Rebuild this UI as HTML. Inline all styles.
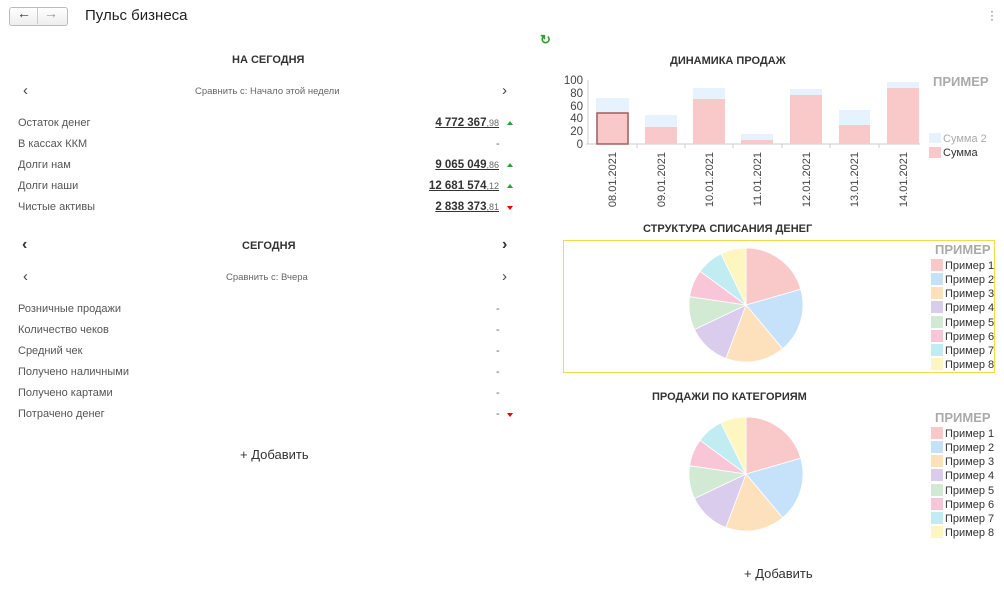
<!DOCTYPE html>
<html><head><meta charset="utf-8"><style>
body{margin:0;width:1004px;height:590px;background:#fff;font-family:"Liberation Sans",sans-serif;position:relative;overflow:hidden;color:#333}
.a{position:absolute;white-space:nowrap}
.lbl{font-size:11px;color:#555}
.val{font-size:11.5px;font-weight:bold;color:#333;text-decoration:underline;text-align:right}
.val small{font-weight:normal;font-size:9px;color:#666}
.dash{font-size:11px;color:#666}
.h{font-size:11px;font-weight:bold;color:#333}
.up{width:0;height:0;border-left:3px solid transparent;border-right:3px solid transparent;border-bottom:4px solid #2ca02c}
.dn{width:0;height:0;border-left:3px solid transparent;border-right:3px solid transparent;border-top:4px solid #e00}
</style></head><body>
<div class="a" style="left:9px;top:7px;width:57px;height:17px;border:1px solid #bbb;border-radius:3px;background:linear-gradient(#fff,#eee)"></div>
<div class="a" style="left:37px;top:8px;width:1px;height:16px;background:#ccc"></div>
<div class="a" style="left:17px;top:5px;font-size:14px;color:#333">&#8592;</div>
<div class="a" style="left:44px;top:5px;font-size:14px;color:#999">&#8594;</div>
<div class="a" style="left:85px;top:7px;font-size:15px;color:#222">Пульс бизнеса</div>
<div class="a" style="left:990px;top:9px;font-size:12px;color:#666;line-height:4px">·<br>·<br>·</div>
<div class="a" style="left:540px;top:32px;font-size:13px;color:#2ca02c;font-weight:bold">&#8635;</div>

<div class="a h" style="left:232px;top:54px">НА СЕГОДНЯ</div>
<div class="a" style="left:23px;top:82px;font-size:15px;color:#444">&#8249;</div>
<div class="a" style="left:502px;top:82px;font-size:15px;color:#444">&#8250;</div>
<div class="a" style="left:195px;top:86px;font-size:9.5px;color:#666">Сравнить с: Начало этой недели</div>

<div class="a lbl" style="left:18px;top:117px">Остаток денег</div>
<div class="a lbl" style="left:18px;top:138px">В кассах ККМ</div>
<div class="a lbl" style="left:18px;top:159px">Долги нам</div>
<div class="a lbl" style="left:18px;top:180px">Долги наши</div>
<div class="a lbl" style="left:18px;top:201px">Чистые активы</div>
<div class="a val" style="right:505px;top:117px">4 772 367<small>,98</small></div>
<div class="a dash" style="left:496px;top:138px">-</div>
<div class="a val" style="right:505px;top:159px">9 065 049<small>,86</small></div>
<div class="a val" style="right:505px;top:180px">12 681 574<small>,12</small></div>
<div class="a val" style="right:505px;top:201px">2 838 373<small>,81</small></div>
<div class="a up" style="left:507px;top:121px"></div>
<div class="a up" style="left:507px;top:163px"></div>
<div class="a up" style="left:507px;top:184px"></div>
<div class="a dn" style="left:507px;top:206px"></div>

<div class="a" style="left:22px;top:236px;font-size:16px;font-weight:bold;color:#333">&#8249;</div>
<div class="a" style="left:502px;top:236px;font-size:16px;font-weight:bold;color:#333">&#8250;</div>
<div class="a h" style="left:242px;top:240px">СЕГОДНЯ</div>
<div class="a" style="left:23px;top:268px;font-size:15px;color:#444">&#8249;</div>
<div class="a" style="left:502px;top:268px;font-size:15px;color:#444">&#8250;</div>
<div class="a" style="left:226px;top:272px;font-size:9.5px;color:#666">Сравнить с: Вчера</div>
<div class="a lbl" style="left:18px;top:303px">Розничные продажи</div>
<div class="a lbl" style="left:18px;top:324px">Количество чеков</div>
<div class="a lbl" style="left:18px;top:345px">Средний чек</div>
<div class="a lbl" style="left:18px;top:366px">Получено наличными</div>
<div class="a lbl" style="left:18px;top:387px">Получено картами</div>
<div class="a lbl" style="left:18px;top:408px">Потрачено денег</div>
<div class="a dash" style="left:496px;top:303px">-</div>
<div class="a dash" style="left:496px;top:324px">-</div>
<div class="a dash" style="left:496px;top:345px">-</div>
<div class="a dash" style="left:496px;top:366px">-</div>
<div class="a dash" style="left:496px;top:387px">-</div>
<div class="a dash" style="left:496px;top:408px">-</div>
<div class="a dn" style="left:507px;top:413px"></div>
<div class="a" style="left:240px;top:447px;font-size:13px;color:#333">+ Добавить</div>

<div class="a h" style="left:670px;top:55px">ДИНАМИКА ПРОДАЖ</div>
<div class="a h" style="left:643px;top:223px">СТРУКТУРА СПИСАНИЯ ДЕНЕГ</div>
<div class="a h" style="left:652px;top:391px">ПРОДАЖИ ПО КАТЕГОРИЯМ</div>
<div class="a" style="left:744px;top:566px;font-size:13px;color:#333">+ Добавить</div>
<div class="a" style="left:563px;top:240px;width:430px;height:131px;border:1px solid #f5d94a"></div>

<svg class="a" style="left:0;top:0" width="1004" height="590" font-family="Liberation Sans, sans-serif">
<g font-size="11.5" fill="#444" text-anchor="end">
<text x="583" y="84">100</text><text x="583" y="97">80</text><text x="583" y="110">60</text><text x="583" y="122">40</text><text x="583" y="135">20</text><text x="583" y="148">0</text>
</g>
<line x1="588" y1="80" x2="588" y2="144" stroke="#ccc"/>
<line x1="586" y1="144" x2="920" y2="144" stroke="#ccc"/>
<g fill="#e6f2fd">
<rect x="596" y="98" width="33" height="46"/><rect x="645" y="115" width="32" height="29"/><rect x="693" y="88" width="32" height="56"/><rect x="741" y="134" width="32" height="10"/><rect x="790" y="89" width="32" height="55"/><rect x="839" y="110" width="31" height="34"/><rect x="887" y="82" width="32" height="62"/>
</g>
<g fill="#f9c9c9">
<rect x="645" y="127" width="32" height="17"/><rect x="693" y="99" width="32" height="45"/><rect x="741" y="140" width="32" height="4"/><rect x="790" y="95" width="32" height="49"/><rect x="839" y="125" width="31" height="19"/><rect x="887" y="88" width="32" height="56"/>
</g>
<rect x="597" y="113" width="31" height="31" fill="#f9c9c9" stroke="#9e6060" stroke-width="1.5"/>
<g stroke="#ccc"><line x1="637" y1="144" x2="637" y2="148"/><line x1="685" y1="144" x2="685" y2="148"/><line x1="733" y1="144" x2="733" y2="148"/><line x1="782" y1="144" x2="782" y2="148"/><line x1="830" y1="144" x2="830" y2="148"/><line x1="879" y1="144" x2="879" y2="148"/></g>
<g font-size="11" fill="#444" text-anchor="end">
<text transform="translate(616,152) rotate(-90)">08.01.2021</text>
<text transform="translate(665,152) rotate(-90)">09.01.2021</text>
<text transform="translate(713,152) rotate(-90)">10.01.2021</text>
<text transform="translate(761,152) rotate(-90)">11.01.2021</text>
<text transform="translate(810,152) rotate(-90)">12.01.2021</text>
<text transform="translate(858,152) rotate(-90)">13.01.2021</text>
<text transform="translate(907,152) rotate(-90)">14.01.2021</text>
</g>
<text x="933" y="86" font-size="13" font-weight="bold" fill="#aaa">ПРИМЕР</text>
<rect x="929" y="133" width="12" height="10" fill="#e6f2fd"/><text x="943" y="142" font-size="11" fill="#aaa">Сумма 2</text>
<rect x="929" y="147" width="12" height="11" fill="#f9c9c9"/><text x="943" y="156" font-size="11" fill="#333">Сумма</text>

<defs><g id="pie" stroke="#fff" stroke-width="0.8">
<path d="M0,0 L0,-57 A57,57 0 0 1 54.8,-15.7Z" fill="#f9c9c9"/>
<path d="M0,0 L54.8,-15.7 A57,57 0 0 1 36.6,43.7Z" fill="#c6e2fb"/>
<path d="M0,0 L36.6,43.7 A57,57 0 0 1 -20.1,53.4Z" fill="#fde1bc"/>
<path d="M0,0 L-20.1,53.4 A57,57 0 0 1 -51.5,24.5Z" fill="#d9ccec"/>
<path d="M0,0 L-51.5,24.5 A57,57 0 0 1 -56.4,-8.3Z" fill="#d2ead3"/>
<path d="M0,0 L-56.4,-8.3 A57,57 0 0 1 -45.9,-33.7Z" fill="#f9c6d8"/>
<path d="M0,0 L-45.9,-33.7 A57,57 0 0 1 -25,-51.2Z" fill="#c0ecf2"/>
<path d="M0,0 L-25,-51.2 A57,57 0 0 1 0,-57Z" fill="#fdf6c0"/>
</g>
<g id="leg" font-size="11" fill="#333">
<text x="935" y="0" font-size="13" font-weight="bold" fill="#aaa">ПРИМЕР</text>
<rect x="931" y="5" width="12" height="12" fill="#f9c9c9"/><text x="945" y="15">Пример 1</text>
<rect x="931" y="19" width="12" height="12" fill="#c6e2fb"/><text x="945" y="29">Пример 2</text>
<rect x="931" y="33" width="12" height="12" fill="#fde1bc"/><text x="945" y="43">Пример 3</text>
<rect x="931" y="47" width="12" height="12" fill="#d9ccec"/><text x="945" y="57">Пример 4</text>
<rect x="931" y="62" width="12" height="12" fill="#d2ead3"/><text x="945" y="72">Пример 5</text>
<rect x="931" y="76" width="12" height="12" fill="#f9c6d8"/><text x="945" y="86">Пример 6</text>
<rect x="931" y="90" width="12" height="12" fill="#c0ecf2"/><text x="945" y="100">Пример 7</text>
<rect x="931" y="104" width="12" height="12" fill="#fdf6c0"/><text x="945" y="114">Пример 8</text>
</g></defs>
<use href="#pie" x="746" y="305"/>
<use href="#pie" x="746" y="474"/>
<use href="#leg" x="0" y="254"/>
<use href="#leg" x="0" y="422"/>
</svg>
</body></html>
